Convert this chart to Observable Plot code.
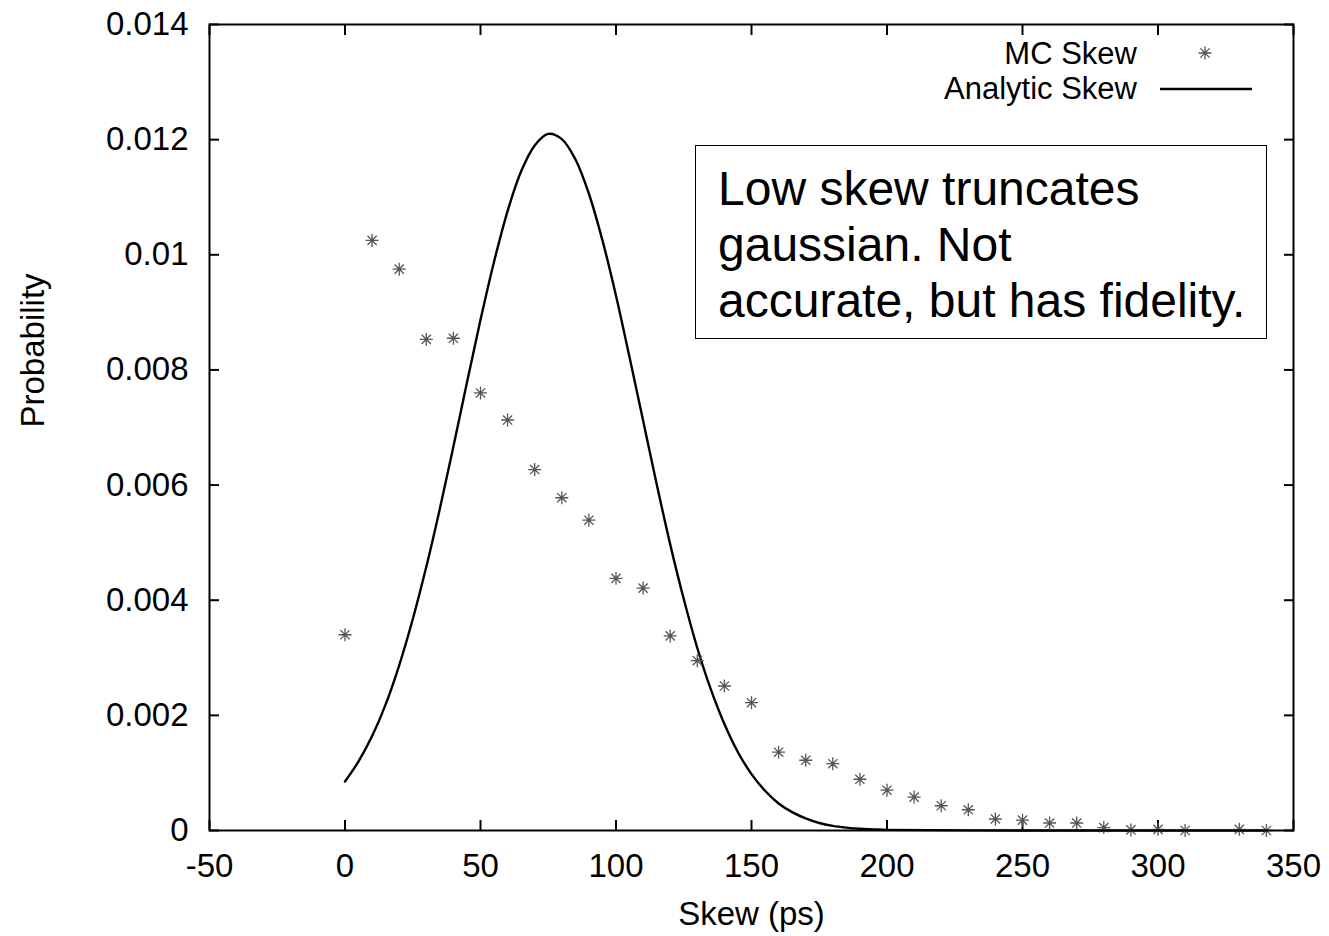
<!DOCTYPE html>
<html>
<head>
<meta charset="utf-8">
<script src="https://cdn.jsdelivr.net/npm/d3@7"></script>
<script src="https://cdn.jsdelivr.net/npm/@observablehq/plot@0.6"></script>
<style>
  body { margin: 0; background: #fff; }
  #chart { position: relative; width: 1329px; height: 936px; font-family: "Liberation Sans", Arial, Helvetica, sans-serif; }
  #note {
    position: absolute; left: 695px; top: 145px; width: 572px; height: 194px;
    box-sizing: border-box; border: 1.5px solid #000; background: #fff;
    font-size: 48px; line-height: 56px; padding: 15px 0 0 22px; color: #000;
    white-space: nowrap;
  }
</style>
</head>
<body>
<div id="chart"></div>
<script>
// ---- data ----
const xTicks = [-50, 0, 50, 100, 150, 200, 250, 300, 350];
const yTicks = [0, 0.002, 0.004, 0.006, 0.008, 0.01, 0.012, 0.014];

const seriesNames = ["MC Skew", "Analytic Skew"];

// Monte Carlo skew histogram (stars)
const mcX = [0, 10, 20, 30, 40, 50, 60, 70, 80, 90,
             100, 110, 120, 130, 140, 150, 160, 170, 180, 190,
             200, 210, 220, 230, 240, 250, 260, 270, 280, 290,
             300, 310, 330, 340];
const mcY = [0.00340, 0.01025, 0.00975, 0.00853, 0.00855, 0.00760, 0.00713, 0.00627, 0.00578, 0.00539,
             0.00438, 0.00421, 0.00338, 0.00295, 0.00251, 0.00222, 0.00136, 0.00122, 0.00116, 0.00089,
             0.00070, 0.00058, 0.00043, 0.00036, 0.00020, 0.00018, 0.00013, 0.00013, 0.00005, 0.00001,
             0.00002, 0.00000, 0.00002, 0.00000];

// Analytic skew curve (solid line)
const anX = [0, 5, 10, 15, 20, 25, 30, 35, 40, 45,
             50, 55, 60, 65, 70, 75, 80, 85, 90, 95,
             100, 105, 110, 115, 120, 125, 130, 135, 140, 145,
             150, 155, 160, 165, 170, 175, 180, 185, 190, 195,
             200, 250, 300, 340];
const anY = [0.00085, 0.00120, 0.00164, 0.00219, 0.00287, 0.00367, 0.00458, 0.00559, 0.00667, 0.00778,
             0.00887, 0.00988, 0.01076, 0.01145, 0.01190, 0.01210, 0.01201, 0.01166, 0.01106, 0.01025,
             0.00929, 0.00822, 0.00712, 0.00602, 0.00497, 0.00402, 0.00317, 0.00245, 0.00185, 0.00136,
             0.00098, 0.00069, 0.00047, 0.00032, 0.00021, 0.00013, 0.00008, 0.00005, 0.00003, 0.00002,
             0.00001, 0.00000, 0.00000, 0.00000];

const noteLines = ["Low skew truncates", "gaussian. Not", "accurate, but has fidelity."];
const xLabel = "Skew (ps)";
const yLabel = "Probability";

// ---- build ----
const mc = mcX.map((x, i) => ({x, y: mcY[i]}));
const an = anX.map((x, i) => ({x, y: anY[i]}));

// gnuplot-style 8-spoke asterisk
const asterisk = {
  draw(ctx, size) {
    const r = Math.sqrt(size / Math.PI);
    const d = r * Math.SQRT1_2;
    ctx.moveTo(-r, 0); ctx.lineTo(r, 0);
    ctx.moveTo(0, -r); ctx.lineTo(0, r);
    ctx.moveTo(-d, -d); ctx.lineTo(d, d);
    ctx.moveTo(-d, d); ctx.lineTo(d, -d);
  }
};

const font = '"Liberation Sans", Arial, Helvetica, sans-serif';

const plot = Plot.plot({
  width: 1329,
  height: 936,
  marginLeft: 209,
  marginRight: 36,
  marginTop: 24,
  marginBottom: 106,
  style: {fontFamily: font, fontSize: "33px", color: "#000", background: "#fff", overflow: "visible"},
  x: {domain: [-50, 350], label: null},
  y: {domain: [0, 0.014], label: null},
  marks: [
    Plot.axisX(xTicks, {anchor: "bottom", tickSize: -10, tickPadding: 33, tickFormat: d => String(d), strokeWidth: 2, fontSize: 33}),
    Plot.axisX(xTicks, {anchor: "top", tickSize: -10, tickFormat: () => "", strokeWidth: 2}),
    Plot.axisY(yTicks, {anchor: "left", tickSize: -10, tickPadding: 31, tickFormat: d => String(d), strokeWidth: 2, fontSize: 33}),
    Plot.axisY(yTicks, {anchor: "right", tickSize: -10, tickFormat: () => "", strokeWidth: 2}),
    Plot.line(an, {x: "x", y: "y", stroke: "#000", strokeWidth: 2.4, curve: "catmull-rom"}),
    Plot.dot(mc, {x: "x", y: "y", symbol: asterisk, r: 6.5, stroke: "#555", strokeWidth: 1.3, fill: "none"}),
    Plot.frame({stroke: "#000", strokeWidth: 2}),
    Plot.text([xLabel], {text: d => d, frameAnchor: "bottom", dy: 84, fontSize: 33, lineAnchor: "middle"}),
    Plot.text([yLabel], {text: d => d, frameAnchor: "left", dx: -176, rotate: -90, fontSize: 33, lineAnchor: "middle"})
  ]
});

// legend (top right, inside the frame)
const svg = d3.select(plot);
const lg = svg.append("g").attr("font-family", font).attr("font-size", 31).attr("fill", "#000");
lg.append("text").attr("x", 1137).attr("y", 64).attr("text-anchor", "end").text(seriesNames[0]);
lg.append("text").attr("x", 1137).attr("y", 99).attr("text-anchor", "end").text(seriesNames[1]);
lg.append("path")
  .attr("transform", "translate(1205,53)")
  .attr("d", d3.symbol(asterisk, 6.5 * 6.5 * Math.PI)())
  .attr("fill", "none").attr("stroke", "#555").attr("stroke-width", 1.3);
lg.append("line").attr("x1", 1160).attr("x2", 1252).attr("y1", 89).attr("y2", 89)
  .attr("stroke", "#000").attr("stroke-width", 2.4);

const chart = document.getElementById("chart");
chart.appendChild(plot);

// annotation box
const note = document.createElement("div");
note.id = "note";
noteLines.forEach((t, i) => {
  const line = document.createElement("div");
  line.textContent = t;
  note.appendChild(line);
});
chart.appendChild(note);
</script>
</body>
</html>
